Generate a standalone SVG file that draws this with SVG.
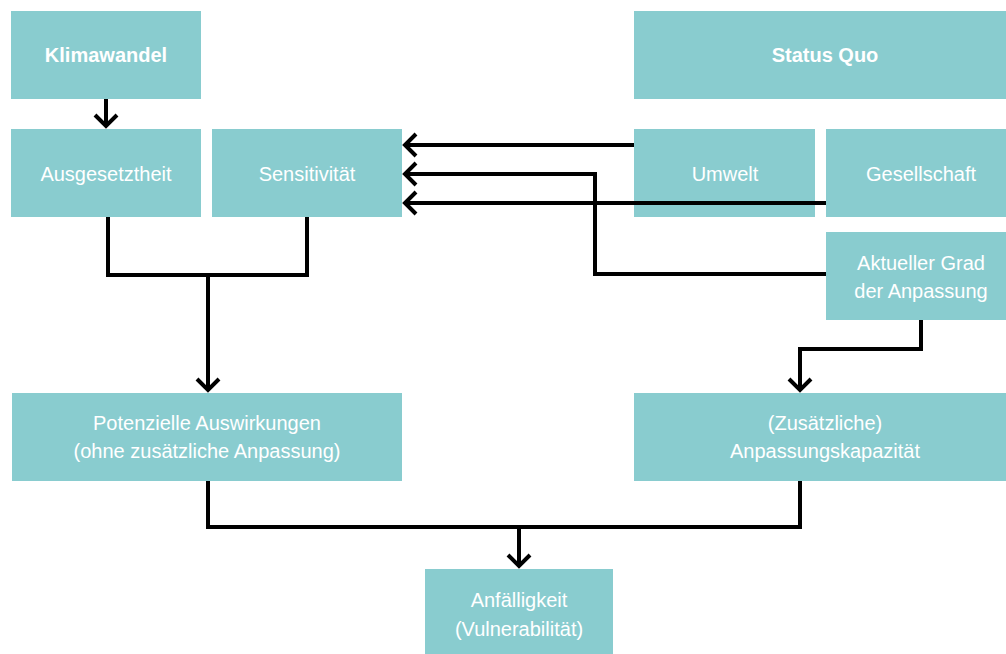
<svg xmlns="http://www.w3.org/2000/svg" width="1006" height="654" viewBox="0 0 1006 654">
<style>
.box{fill:#89CCCF}
.t{fill:#fff;font-family:"Liberation Sans",Arial,Helvetica,sans-serif;font-size:20px;text-anchor:middle}
.b{font-weight:bold}
.c{fill:none;stroke:#000;stroke-width:4}
</style>
<defs>
<marker id="arr" markerUnits="userSpaceOnUse" markerWidth="30" markerHeight="30" refX="0" refY="0" orient="auto" style="overflow:visible">
<path d="M-11,-11 L0,0 L-11,11" fill="none" stroke="#000" stroke-width="4"/>
</marker>
</defs>
<rect width="1006" height="654" fill="#fff"/>
<g id="klimawandel"><rect class="box" x="11" y="11" width="190" height="88"/><text class="t b" x="106" y="62">Klimawandel</text></g>
<g id="statusquo"><rect class="box" x="634" y="11" width="382" height="88"/><text class="t b" x="825" y="62">Status Quo</text></g>
<g id="ausgesetztheit"><rect class="box" x="11" y="129" width="190" height="88"/><text class="t" x="106" y="181">Ausgesetztheit</text></g>
<g id="sensitivitaet"><rect class="box" x="212" y="129" width="190" height="88"/><text class="t" x="307" y="181">Sensitivität</text></g>
<g id="umwelt"><rect class="box" x="634" y="129" width="181" height="88"/><text class="t" x="725" y="181">Umwelt</text></g>
<g id="gesellschaft"><rect class="box" x="826" y="129" width="190" height="88"/><text class="t" x="921" y="181">Gesellschaft</text></g>
<g id="aktueller"><rect class="box" x="826" y="232" width="190" height="88"/><text class="t" x="921" y="270">Aktueller Grad</text><text class="t" x="921" y="298">der Anpassung</text></g>
<g id="potenzielle"><rect class="box" x="12" y="393" width="390" height="88"/><text class="t" x="207" y="430">Potenzielle Auswirkungen</text><text class="t" x="207" y="458">(ohne zusätzliche Anpassung)</text></g>
<g id="kapazitaet"><rect class="box" x="634" y="393" width="382" height="88"/><text class="t" x="825" y="430">(Zusätzliche)</text><text class="t" x="825" y="458">Anpassungskapazität</text></g>
<g id="anfaelligkeit"><rect class="box" x="425" y="569" width="188" height="90"/><text class="t" x="519" y="607">Anfälligkeit</text><text class="t" x="519" y="636">(Vulnerabilität)</text></g>
<g id="connectors">
<path class="c" d="M106,99 V126" marker-end="url(#arr)"/>
<path class="c" d="M634,145 H405" marker-end="url(#arr)"/>
<path class="c" d="M826,274 H595 V174 H405" marker-end="url(#arr)"/>
<path class="c" d="M826,203 H405" marker-end="url(#arr)"/>
<path class="c" d="M108,217 V275 H307 V217"/>
<path class="c" d="M208,275 V390" marker-end="url(#arr)"/>
<path class="c" d="M921,320 V349 H800 V390" marker-end="url(#arr)"/>
<path class="c" d="M208,481 V527 H800 V481"/>
<path class="c" d="M519,527 V566" marker-end="url(#arr)"/>
</g>
</svg>
